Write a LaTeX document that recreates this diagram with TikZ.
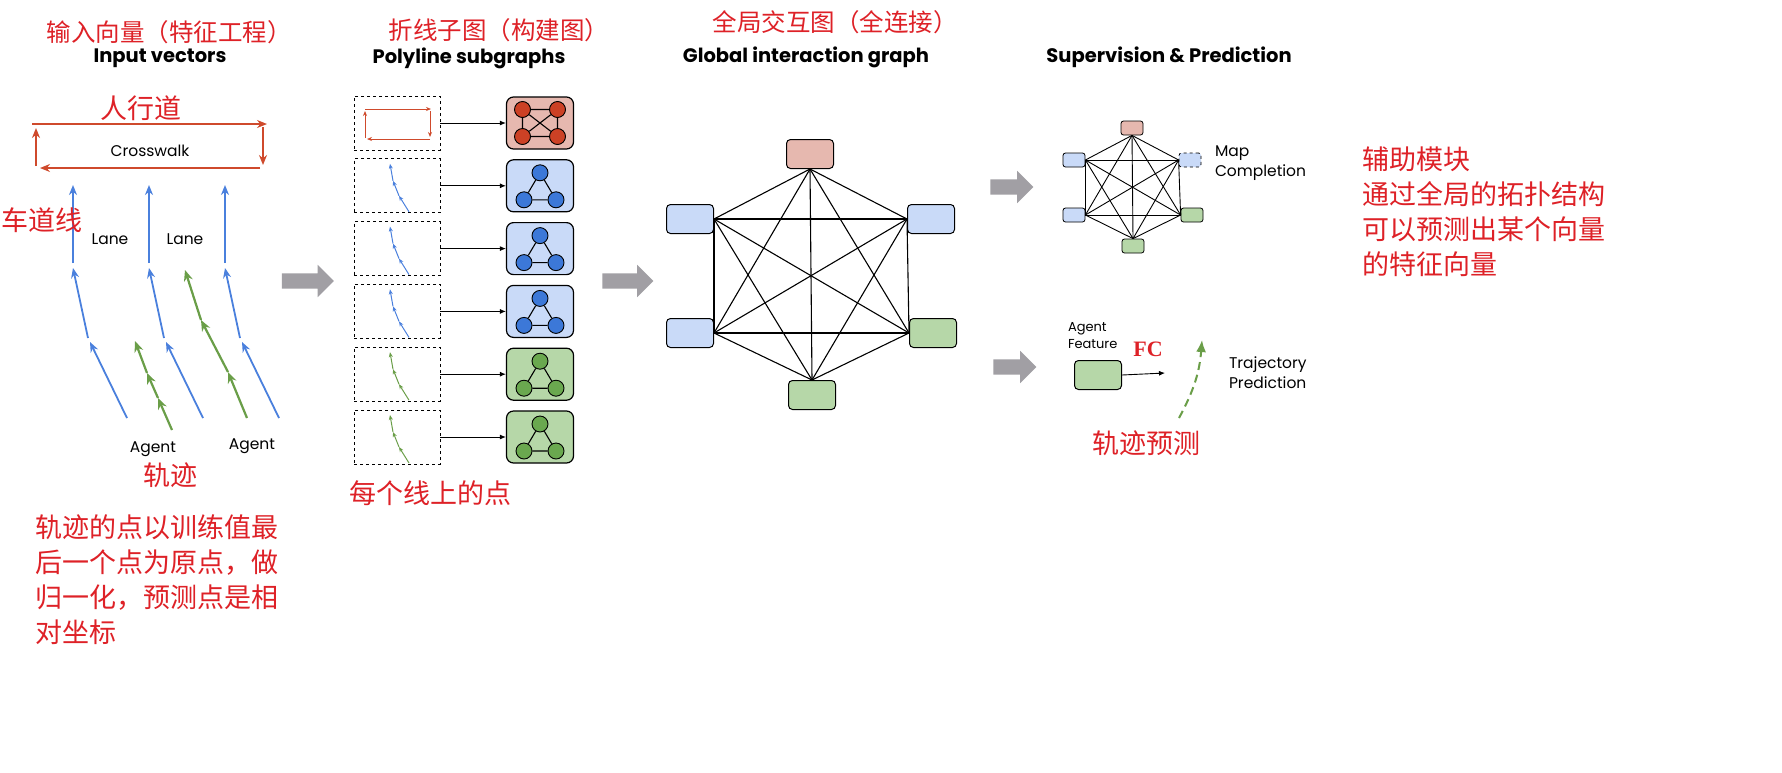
\documentclass[tikz,border=0pt]{standalone}
\usepackage{fontspec}
\usepackage{xcolor}
\usetikzlibrary{shapes,arrows.meta,positioning,calc}
\setmainfont{Poppins}
\newfontfamily\cjk{Noto Sans CJK SC}
\newfontfamily\fcfont{Liberation Serif}
\definecolor{noteRed}{HTML}{DE2127}
\definecolor{cwRed}{HTML}{CF4A2C}
\definecolor{laneBlue}{HTML}{4A80DD}
\definecolor{agentGreen}{HTML}{6A9E48}
\definecolor{arrowGrey}{HTML}{A19FA4}
\definecolor{redFill}{HTML}{E6B8AF}
\definecolor{blueFill}{HTML}{C9DAF8}
\definecolor{greenFill}{HTML}{B6D7A8}
\definecolor{redDot}{HTML}{CC4125}
\definecolor{blueDot}{HTML}{3C78D8}
\definecolor{greenDot}{HTML}{6AA84F}
\tikzset{
        txt/.style={inner sep=0pt, outer sep=0pt},
        % Chinese remarks
        note_red/.style={txt, text=noteRed, font=\cjk\fontsize{27}{35}\selectfont},
        note_title/.style={txt, text=noteRed, font=\cjk\fontsize{24.5}{28}\selectfont},
        % English titles and labels
        sec_title/.style={txt, font=\bfseries\fontsize{19.5}{22}\selectfont},
        lbl/.style={txt, font=\fontsize{15.5}{20}\selectfont, align=left},
        % Vectors
        lane_vec/.style={laneBlue, line width=1.8pt, -{Stealth[length=10pt,width=8pt]}},
        agent_vec/.style={agentGreen, line width=2.2pt, -{Stealth[length=11pt,width=9pt]}},
        cw_vec/.style={cwRed, line width=1.8pt, -{Stealth[length=10pt,width=8pt]}},
        mini_vec/.style={line width=1pt, -{Stealth[length=5pt,width=4pt]}},
        % Input boxes
        node_input/.style={draw, dashed, line width=0.8pt, minimum width=86pt, minimum height=54pt, inner sep=0pt},
        % Subgraph boxes
        node_sub/.style={draw, line width=1.2pt, rounded corners=7pt, minimum width=67pt, minimum height=52pt, inner sep=0pt},
        node_dot/.style={circle, draw, line width=0.9pt, minimum size=16pt, inner sep=0pt},
        % Graph nodes
        node_global/.style={draw, line width=1pt, rounded corners=4pt, minimum width=47pt, minimum height=29pt, inner sep=0pt},
        node_small/.style={draw, line width=0.8pt, rounded corners=2.5pt, minimum width=22pt, minimum height=14pt, inner sep=0pt},
        link/.style={line width=0.9pt, -{Latex[length=6pt,width=5pt]}},
        edge_g/.style={line width=1.1pt},
        % Grey step arrows
        big_arrow/.style={single arrow, fill=arrowGrey, draw=none, inner xsep=0pt, inner ysep=7.5pt, minimum width=0pt, single arrow head extend=8.5pt, single arrow tip angle=90}
}
\begin{document}
\begin{tikzpicture}[x=1pt, y=-1pt]
\useasboundingbox[fill=white] (0,0) rectangle (1782,772);

% titles
\node[note_title] (t1cn) at (169,32) {输入向量（特征工程）};
\node[sec_title] (t1) at (160,58) {Input vectors};
\node[note_title] (t2cn) at (499,30) {折线子图（构建图）};
\node[sec_title] (t2) at (469,58) {Polyline subgraphs};
\node[note_title] (t3cn) at (835,22) {全局交互图（全连接）};
\node[sec_title] (t3) at (806,57) {Global interaction graph};
\node[sec_title] (t4) at (1169,57) {Supervision \& Prediction};

% input vectors
\node[note_red] (cwcn) at (141,108) {人行道};
\node[lbl] (cwtext) at (150,151) {Crosswalk};
\coordinate (cw-tl) at (32,124);  \coordinate (cw-tr) at (267,124);
\coordinate (cw-rt) at (263,127); \coordinate (cw-rb) at (263,165);
\coordinate (cw-br) at (260,168); \coordinate (cw-bl) at (40,168);
\coordinate (cw-lb) at (36,166);  \coordinate (cw-lt) at (36,128);
\draw[cw_vec] (cw-tl) -- (cw-tr);
\draw[cw_vec] (cw-rt) -- (cw-rb);
\draw[cw_vec] (cw-br) -- (cw-bl);
\draw[cw_vec] (cw-lb) -- (cw-lt);

\foreach \i/\dx in {1/0,2/76,3/152}{
  \coordinate (lane\i-a) at (127+\dx,418);
  \coordinate (lane\i-b) at (90+\dx,342);
  \coordinate (lane\i-c) at (88+\dx,338);
  \coordinate (lane\i-d) at (73+\dx,268);
  \coordinate (lane\i-e) at (73+\dx,263);
  \coordinate (lane\i-f) at (73+\dx,185);
  \draw[lane_vec] (lane\i-a) -- (lane\i-b);
  \draw[lane_vec] (lane\i-c) -- (lane\i-d);
  \draw[lane_vec] (lane\i-e) -- (lane\i-f);
}
\coordinate (ag1-0) at (172,430); \coordinate (ag1-1) at (158,398);
\coordinate (ag1-2) at (147,373); \coordinate (ag1-3) at (135,341);
\coordinate (ag2-0) at (247,418); \coordinate (ag2-1) at (228,372);
\coordinate (ag2-2) at (201,320); \coordinate (ag2-3) at (185,270);
\foreach \a in {1,2}{
  \draw[agent_vec] (ag\a-0) -- (ag\a-1);
  \draw[agent_vec] (ag\a-1) -- (ag\a-2);
  \draw[agent_vec] (ag\a-2) -- (ag\a-3);
}
\node[note_red] (lanecn) at (42,220) {车道线};
\node[lbl] (lane1) at (110,239) {Lane};
\node[lbl] (lane2) at (185,239) {Lane};
\node[lbl] (agent1) at (153,449) {Agent};
\node[lbl] (agent2) at (252,446) {Agent};
\node[note_red] (trajcn) at (170,475) {轨迹};
\node[note_red, anchor=west, align=left] (normcn) at (35,580) {轨迹的点以训练值最\\后一个点为原点，做\\归一化，预测点是相\\对坐标};

\node[big_arrow, minimum height=52pt] (arr1) at (304,281) {};

% polyline subgraphs
\foreach \i/\fc/\dc in {0/redFill/redDot,1/blueFill/blueDot,2/blueFill/blueDot,3/blueFill/blueDot,4/greenFill/greenDot,5/greenFill/greenDot}{
  \pgfmathsetmacro\yy{123+62.8*\i}
  \node[node_input] (in\i) at (397,\yy) {};
  \node[node_sub, fill=\fc] (sub\i) at (540,\yy) {};
  \draw[link] (in\i) -- (sub\i);
}
% crosswalk polyline
\coordinate (m-tl) at ($(in0)+(-32,-14)$); \coordinate (m-tr) at ($(in0)+(34,-14)$);
\coordinate (m-rt) at ($(in0)+(33,-12)$);  \coordinate (m-rb) at ($(in0)+(33,14)$);
\coordinate (m-br) at ($(in0)+(33,16)$);   \coordinate (m-bl) at ($(in0)+(-30,16)$);
\coordinate (m-lb) at ($(in0)+(-32,15)$);  \coordinate (m-lt) at ($(in0)+(-32,-12)$);
\draw[mini_vec, cwRed] (m-tl) -- (m-tr);
\draw[mini_vec, cwRed] (m-rt) -- (m-rb);
\draw[mini_vec, cwRed] (m-br) -- (m-bl);
\draw[mini_vec, cwRed] (m-lb) -- (m-lt);
% lane and agent polylines
\foreach \i/\col in {1/laneBlue,2/laneBlue,3/laneBlue,4/agentGreen,5/agentGreen}{
  \coordinate (v\i-0) at ($(in\i)+(12,26)$);
  \coordinate (v\i-1) at ($(in\i)+(2,10)$);
  \coordinate (v\i-2) at ($(in\i)+(-4,-5)$);
  \coordinate (v\i-3) at ($(in\i)+(-7,-22)$);
  \draw[mini_vec, \col] (v\i-0) -- (v\i-1);
  \draw[mini_vec, \col] (v\i-1) -- (v\i-2);
  \draw[mini_vec, \col] (v\i-2) -- (v\i-3);
}
% fully connected crosswalk subgraph
\node[node_dot, fill=redDot] (d0-1) at ($(sub0)+(-17.5,-13.5)$) {};
\node[node_dot, fill=redDot] (d0-2) at ($(sub0)+(17.5,-13.5)$) {};
\node[node_dot, fill=redDot] (d0-3) at ($(sub0)+(-17.5,13.5)$) {};
\node[node_dot, fill=redDot] (d0-4) at ($(sub0)+(17.5,13.5)$) {};
\draw[edge_g] (d0-1) -- (d0-2) (d0-3) -- (d0-4) (d0-1) -- (d0-3) (d0-2) -- (d0-4) (d0-1) -- (d0-4) (d0-2) -- (d0-3);
% triangle subgraphs
\foreach \i/\dc in {1/blueDot,2/blueDot,3/blueDot,4/greenDot,5/greenDot}{
  \node[node_dot, fill=\dc] (d\i-1) at ($(sub\i)+(0,-13)$) {};
  \node[node_dot, fill=\dc] (d\i-2) at ($(sub\i)+(-16,14)$) {};
  \node[node_dot, fill=\dc] (d\i-3) at ($(sub\i)+(16,14)$) {};
  \draw[edge_g] (d\i-1) -- (d\i-2) -- (d\i-3) -- (d\i-1);
}
\node[note_red] (pointcn) at (430,493) {每个线上的点};

\node[big_arrow, minimum height=51pt] (arr2) at (624,281) {};

% global interaction graph
\node[node_global, fill=redFill] (g1) at (810,154) {};
\node[node_global, fill=blueFill] (g2) at (690,219) {};
\node[node_global, fill=blueFill] (g3) at (931,219) {};
\node[node_global, fill=blueFill] (g4) at (690,333) {};
\node[node_global, fill=greenFill] (g5) at (933,333) {};
\node[node_global, fill=greenFill] (g6) at (812,395) {};
\coordinate (p1) at (g1.south); \coordinate (p2) at (g2.east);
\coordinate (p3) at (g3.west);  \coordinate (p4) at (g4.east);
\coordinate (p5) at (g5.west);  \coordinate (p6) at (g6.north);
\foreach \a in {1,...,5}{
  \pgfmathtruncatemacro\s{\a+1}
  \foreach \b in {\s,...,6}
    \draw[edge_g] (p\a) -- (p\b);
}

% supervision and prediction
\node[big_arrow, minimum height=43pt] (arr3) at (1008,187) {};
\node[node_small, fill=redFill] (s1) at (1132,128) {};
\node[node_small, fill=blueFill] (s2) at (1074,160) {};
\node[node_small, fill=blueFill, dashed] (s3) at (1190,160) {};
\node[node_small, fill=blueFill] (s4) at (1074,215) {};
\node[node_small, fill=greenFill] (s5) at (1192,215) {};
\node[node_small, fill=greenFill] (s6) at (1133,246) {};
\coordinate (q1) at (s1.south); \coordinate (q2) at (s2.east);
\coordinate (q3) at (s3.west);  \coordinate (q4) at (s4.east);
\coordinate (q5) at (s5.west);  \coordinate (q6) at (s6.north);
\foreach \a in {1,...,5}{
  \pgfmathtruncatemacro\s{\a+1}
  \foreach \b in {\s,...,6}
    \draw[line width=0.9pt] (q\a) -- (q\b);
}
\node[lbl, anchor=west] (mapc) at (1215,163) {Map\\Completion};

\node[big_arrow, minimum height=43pt] (arr4) at (1011,367) {};
\node[lbl, anchor=west, font=\fontsize{13}{17}\selectfont] (aflbl) at (1068,335.5) {Agent\\Feature};
\node[node_global, fill=greenFill] (af) at (1098,375) {};
\coordinate (fcend) at (1165,373);
\draw[link] (af.east) -- (fcend);
\node[txt, text=noteRed, font=\fcfont\bfseries\fontsize{22}{24}\selectfont] (fc) at (1148,349) {FC};
\coordinate (tp-a) at (1179,418); \coordinate (tp-b) at (1202,340);
\draw[agentGreen, line width=2pt, dash pattern=on 8pt off 5pt, -{Latex[length=12pt,width=10pt]}] (tp-a) to[bend right=12] (tp-b);
\node[lbl, anchor=west] (trajp) at (1229,373) {Trajectory\\Prediction};
\node[note_red] (predcn) at (1146,443) {轨迹预测};

\node[note_red, anchor=west, align=left] (auxcn) at (1362,212) {辅助模块\\通过全局的拓扑结构\\可以预测出某个向量\\的特征向量};
\end{tikzpicture}
\end{document}
